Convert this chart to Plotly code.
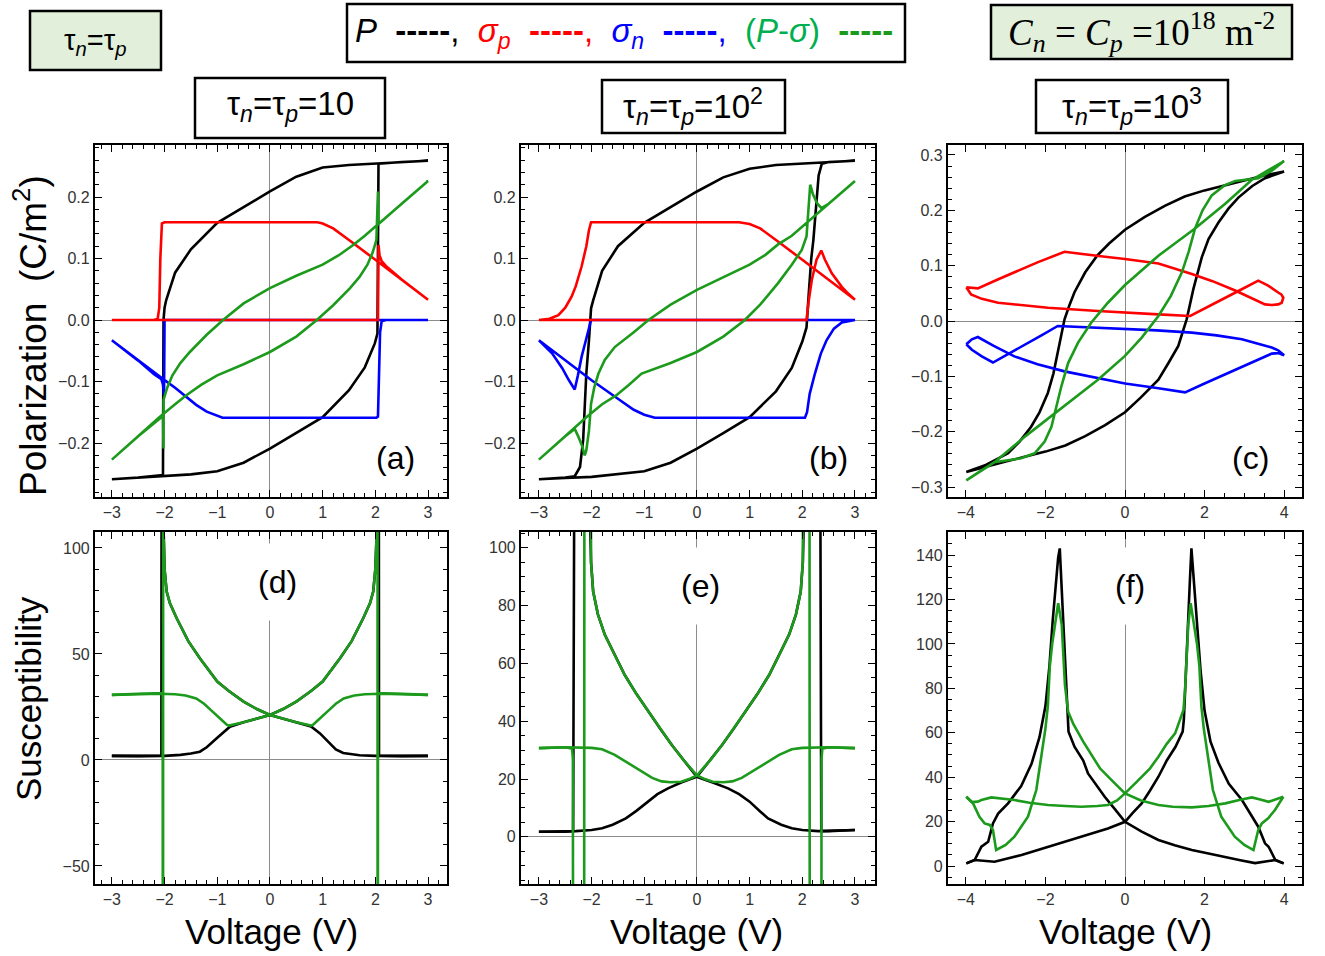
import plotly.graph_objects as go

# ---------------- DATA (voltage, value) ----------------
# Panel (a)  tau_n = tau_p = 10
a_P = [(3.0, 0.259), (2.5, 0.257), (2.0, 0.255), (1.5, 0.252), (1.0, 0.248), (0.5, 0.233), (0.0, 0.209),
       (-0.5, 0.184), (-1.0, 0.158), (-1.5, 0.115), (-1.8, 0.077), (-1.97, 0.032), (-2.0, 0.020), (-2.02, 0.0),
       (-2.03, -0.252), (-2.5, -0.256), (-3.0, -0.259),
       (-2.5, -0.257), (-2.0, -0.254), (-1.5, -0.251), (-1.0, -0.246), (-0.5, -0.232), (0.0, -0.209),
       (0.5, -0.184), (1.0, -0.158), (1.5, -0.114), (1.8, -0.077), (1.99, -0.038), (2.04, -0.022),
       (2.06, 0.254), (2.5, 0.257), (3.0, 0.259)]
a_sp = [(3.0, 0.033), (2.5, 0.066), (2.0, 0.098), (1.5, 0.130), (1.2, 0.149), (1.0, 0.157), (0.9, 0.159),
        (0.0, 0.159), (-1.0, 0.159), (-2.0, 0.159), (-2.05, 0.157), (-2.08, 0.10), (-2.10, 0.02), (-2.13, 0.002),
        (-2.2, 0.0), (-3.0, 0.0),
        (-2.0, 0.0), (0.0, 0.0), (2.05, 0.0), (2.06, 0.122), (2.08, 0.105), (2.12, 0.096), (2.2, 0.088),
        (2.5, 0.066), (3.0, 0.033)]
a_sn = [(-3.0, -0.033), (-2.5, -0.066), (-2.09, -0.092), (-1.8, -0.110), (-1.58, -0.125), (-1.4, -0.138),
        (-1.2, -0.149), (-1.0, -0.156), (-0.9, -0.159), (0.0, -0.159), (1.0, -0.159), (2.02, -0.159),
        (2.05, -0.157), (2.07, -0.10), (2.09, -0.02), (2.12, -0.002), (2.2, 0.0), (3.0, 0.0),
        (2.0, 0.0), (0.0, 0.0), (-2.0, 0.0), (-2.01, -0.122), (-2.03, -0.105), (-2.06, -0.096), (-2.2, -0.088),
        (-2.5, -0.066), (-3.0, -0.033)]
a_G = [(3.0, 0.226), (2.5, 0.189), (2.1, 0.158), (1.8, 0.137), (1.58, 0.122), (1.3, 0.105), (1.0, 0.090),
       (0.5, 0.072), (0.0, 0.052), (-0.5, 0.027), (-0.89, 0.0), (-1.2, -0.024), (-1.52, -0.052), (-1.7, -0.070),
       (-1.85, -0.090), (-1.95, -0.110), (-2.02, -0.130), (-2.02, -0.209), (-2.03, -0.156), (-2.5, -0.189),
       (-3.0, -0.227),
       (-2.5, -0.189), (-2.1, -0.158), (-1.8, -0.137), (-1.58, -0.122), (-1.3, -0.105), (-1.0, -0.090),
       (-0.5, -0.072), (0.0, -0.052), (0.5, -0.027), (0.89, 0.0), (1.2, 0.024), (1.52, 0.052), (1.7, 0.070),
       (1.85, 0.090), (1.95, 0.110), (2.02, 0.130), (2.05, 0.209), (2.06, 0.156), (2.5, 0.189), (3.0, 0.226)]

# Panel (b)  tau = 10^2
b_P = [(3.0, 0.259), (2.5, 0.257), (2.0, 0.255), (1.5, 0.252), (1.0, 0.246), (0.5, 0.232), (0.0, 0.209),
       (-0.5, 0.184), (-1.0, 0.158), (-1.5, 0.120), (-1.8, 0.080), (-1.97, 0.032), (-2.01, 0.019),
       (-2.05, -0.033), (-2.10, -0.087), (-2.13, -0.141), (-2.16, -0.195), (-2.22, -0.239), (-2.32, -0.254),
       (-2.5, -0.256), (-3.0, -0.259),
       (-2.5, -0.257), (-2.0, -0.255), (-1.5, -0.251), (-1.0, -0.246), (-0.5, -0.232), (0.0, -0.209),
       (0.5, -0.184), (1.0, -0.158), (1.5, -0.116), (1.8, -0.078), (2.0, -0.035), (2.08, -0.012),
       (2.12, 0.040), (2.17, 0.100), (2.21, 0.130), (2.26, 0.190), (2.31, 0.235), (2.37, 0.254),
       (2.5, 0.257), (3.0, 0.259)]
b_sp = [(3.0, 0.033), (2.5, 0.066), (2.0, 0.098), (1.5, 0.130), (1.2, 0.149), (1.0, 0.156), (0.8, 0.159),
        (0.0, 0.159), (-1.0, 0.159), (-2.01, 0.159), (-2.05, 0.146), (-2.1, 0.120), (-2.19, 0.087),
        (-2.3, 0.055), (-2.38, 0.038), (-2.5, 0.020), (-2.63, 0.008), (-2.8, 0.002), (-3.0, 0.0),
        (0.0, 0.0), (2.08, 0.0), (2.12, 0.030), (2.18, 0.065), (2.27, 0.098), (2.36, 0.113), (2.43, 0.098),
        (2.56, 0.076), (2.75, 0.054), (2.87, 0.043), (3.0, 0.033)]
b_sn = [(-3.0, -0.033), (-2.5, -0.066), (-2.0, -0.098), (-1.5, -0.128), (-1.2, -0.146), (-1.0, -0.154),
        (-0.8, -0.159), (0.0, -0.159), (1.0, -0.159), (2.05, -0.159), (2.09, -0.150), (2.14, -0.120),
        (2.24, -0.087), (2.35, -0.055), (2.46, -0.033), (2.6, -0.014), (2.75, -0.004), (3.0, 0.0),
        (0.0, 0.0), (-2.01, 0.0), (-2.1, -0.030), (-2.19, -0.060), (-2.26, -0.090), (-2.32, -0.113),
        (-2.43, -0.098), (-2.56, -0.078), (-2.75, -0.054), (-3.0, -0.033)]
b_G = [(3.0, 0.226), (2.5, 0.189), (2.1, 0.158), (1.8, 0.137), (1.54, 0.123), (1.3, 0.106), (1.0, 0.090),
       (0.5, 0.070), (0.0, 0.049), (-0.5, 0.025), (-0.92, 0.0), (-1.2, -0.020), (-1.56, -0.044),
       (-1.75, -0.065), (-1.87, -0.087), (-1.95, -0.110), (-2.01, -0.136), (-2.05, -0.180), (-2.10, -0.212),
       (-2.13, -0.220), (-2.18, -0.205), (-2.25, -0.190), (-2.32, -0.177), (-2.5, -0.189), (-3.0, -0.227),
       (-2.5, -0.189), (-2.1, -0.158), (-1.8, -0.137), (-1.54, -0.123), (-1.3, -0.106), (-1.05, -0.087),
       (-0.5, -0.070), (0.0, -0.052), (0.5, -0.027), (0.91, 0.0), (1.2, 0.025), (1.54, 0.060), (1.8, 0.090),
       (1.99, 0.114), (2.08, 0.136), (2.12, 0.180), (2.15, 0.220), (2.2, 0.205), (2.28, 0.190), (2.36, 0.182),
       (2.5, 0.189), (3.0, 0.226)]

# Panel (c)  tau = 10^3
c_P = [(4.0, 0.270), (3.5, 0.263), (3.0, 0.254), (2.5, 0.245), (2.0, 0.236), (1.5, 0.225), (1.0, 0.208),
       (0.5, 0.188), (0.0, 0.165), (-0.4, 0.140), (-0.7, 0.118), (-1.0, 0.088), (-1.27, 0.052), (-1.4, 0.028),
       (-1.52, 0.003), (-1.6, -0.025), (-1.69, -0.058), (-1.8, -0.095), (-1.94, -0.130), (-2.15, -0.165),
       (-2.36, -0.191), (-2.65, -0.218), (-2.94, -0.239), (-3.5, -0.260), (-3.99, -0.273),
       (-3.5, -0.263), (-3.0, -0.254), (-2.5, -0.245), (-2.0, -0.236), (-1.5, -0.225), (-1.0, -0.208),
       (-0.5, -0.188), (0.0, -0.165), (0.4, -0.138), (0.84, -0.106), (1.1, -0.075), (1.34, -0.045),
       (1.55, 0.003), (1.72, 0.058), (1.93, 0.115), (2.1, 0.148), (2.35, 0.178), (2.6, 0.203), (2.85, 0.223),
       (3.2, 0.244), (3.52, 0.258), (4.0, 0.270)]
c_sp = [(-3.99, 0.061), (-3.70, 0.059), (-3.2, 0.075), (-2.78, 0.088), (-2.2, 0.106), (-1.52, 0.125),
        (-1.0, 0.120), (-0.5, 0.116), (0.0, 0.112), (0.84, 0.104), (1.68, 0.085), (2.2, 0.072), (2.77, 0.055),
        (3.2, 0.041), (3.52, 0.030), (3.69, 0.029), (3.85, 0.030), (3.94, 0.033), (3.98, 0.042), (3.93, 0.048),
        (3.86, 0.051), (3.6, 0.064), (3.35, 0.073), (2.9, 0.056), (2.5, 0.041), (2.0, 0.022), (1.64, 0.009),
        (0.84, 0.012), (0.0, 0.015), (-0.68, 0.018), (-1.94, 0.024), (-3.19, 0.033), (-3.6, 0.040),
        (-3.87, 0.048), (-3.99, 0.061)]
c_sn = [(-3.99, -0.042), (-3.85, -0.033), (-3.70, -0.029), (-3.3, -0.045), (-2.78, -0.064), (-2.2, -0.078),
        (-1.52, -0.091), (-0.7, -0.103), (0.0, -0.113), (0.8, -0.121), (1.51, -0.129), (2.0, -0.113),
        (2.6, -0.094), (3.2, -0.074), (3.69, -0.059), (3.85, -0.058), (4.0, -0.062), (3.85, -0.053),
        (3.69, -0.048), (3.3, -0.040), (2.94, -0.033), (2.3, -0.026), (1.68, -0.021), (0.8, -0.017),
        (0.0, -0.014), (-0.8, -0.011), (-1.69, -0.009), (-2.1, -0.026), (-2.5, -0.042), (-2.9, -0.058),
        (-3.32, -0.075), (-3.6, -0.064), (-3.85, -0.052), (-3.99, -0.042)]
c_G = [(4.0, 0.289), (3.6, 0.272), (3.19, 0.255), (2.52, 0.212), (1.76, 0.167), (0.84, 0.118), (0.0, 0.065),
       (-0.43, 0.033), (-0.85, -0.003), (-1.18, -0.039), (-1.43, -0.076), (-1.60, -0.118), (-1.73, -0.155),
       (-1.85, -0.191), (-2.02, -0.218), (-2.27, -0.239), (-2.61, -0.248), (-3.0, -0.252), (-3.28, -0.255),
       (-3.61, -0.270), (-3.99, -0.288),
       (-3.28, -0.255), (-2.5, -0.208), (-1.77, -0.167), (-1.2, -0.134), (-0.68, -0.106), (0.0, -0.063),
       (0.42, -0.030), (0.84, 0.009), (1.15, 0.045), (1.43, 0.088), (1.6, 0.125), (1.76, 0.167), (1.95, 0.200),
       (2.18, 0.227), (2.5, 0.245), (2.77, 0.253), (3.0, 0.255), (3.35, 0.258), (3.7, 0.272), (4.0, 0.289)]

# Panel (d)  susceptibility, tau = 10
d_Pdesc = [(3.0, 1.9), (2.5, 1.8), (2.0, 1.9), (1.7, 2.2), (1.5, 2.7), (1.39, 3.3), (1.25, 5.0), (1.08, 9.4),
           (0.95, 12.5), (0.78, 15.8), (0.5, 17.8), (0.25, 19.5), (0.0, 21.2), (-0.25, 24.0), (-0.5, 27.5),
           (-0.78, 32.5), (-1.0, 37.0), (-1.33, 48.0), (-1.55, 56.0), (-1.77, 66.8), (-1.9, 74.0),
           (-1.96, 79.4), (-2.0, 90.0), (-2.02, 110.0), (-2.03, 400.0), (-2.05, 400.0), (-2.06, 2.0),
           (-2.5, 1.8), (-3.0, 1.9)]
d_Pasc = [(-3.0, 1.9), (-2.5, 1.8), (-2.0, 1.9), (-1.7, 2.4), (-1.5, 3.0), (-1.33, 3.9), (-1.2, 6.0),
          (-1.01, 10.2), (-0.9, 12.8), (-0.76, 15.7), (-0.5, 17.8), (-0.25, 19.5), (0.0, 21.2), (0.25, 24.0),
          (0.5, 27.5), (0.78, 32.5), (1.0, 37.0), (1.33, 48.0), (1.55, 56.0), (1.77, 66.8), (1.9, 74.0),
          (1.96, 79.4), (2.0, 90.0), (2.03, 110.0), (2.04, 400.0), (2.06, 400.0), (2.07, 2.0), (2.5, 1.8),
          (3.0, 1.9)]
d_Gdesc = [(3.0, 30.7), (2.5, 31.0), (2.1, 31.2), (1.8, 31.0), (1.6, 30.4), (1.4, 29.0), (1.25, 26.5),
           (1.12, 23.5), (1.01, 21.2), (0.9, 18.5), (0.82, 16.6), (0.78, 16.2), (0.5, 17.8), (0.25, 19.5),
           (0.0, 21.2), (-0.25, 24.0), (-0.5, 27.5), (-0.78, 32.5), (-1.0, 37.0), (-1.33, 48.0), (-1.55, 56.0),
           (-1.77, 66.8), (-1.9, 74.0), (-1.96, 79.4), (-2.0, 90.0), (-2.02, 110.0), (-2.025, 400.0),
           (-2.03, -400.0), (-2.035, 31.5), (-2.5, 31.2), (-3.0, 30.7)]
d_Gasc = [(-3.0, 30.7), (-2.5, 31.0), (-2.1, 31.2), (-1.8, 31.0), (-1.6, 30.4), (-1.4, 29.0), (-1.25, 26.5),
          (-1.12, 23.5), (-1.01, 21.2), (-0.9, 18.5), (-0.82, 16.6), (-0.78, 16.2), (-0.5, 17.8),
          (-0.25, 19.5), (0.0, 21.2), (0.25, 24.0), (0.5, 27.5), (0.78, 32.5), (1.0, 37.0), (1.33, 48.0),
          (1.55, 56.0), (1.77, 66.8), (1.9, 74.0), (1.96, 79.4), (2.0, 90.0), (2.03, 110.0), (2.04, 400.0),
          (2.045, -400.0), (2.05, 31.5), (2.5, 31.2), (3.0, 30.7)]

# Panel (e)  susceptibility, tau = 10^2
e_Pdesc = [(3.0, 2.4), (2.6, 2.2), (2.3, 2.0), (2.0, 2.4), (1.8, 3.0), (1.6, 4.2), (1.35, 6.4), (1.2, 8.8),
           (1.0, 12.2), (0.8, 14.8), (0.59, 16.8), (0.3, 18.8), (0.0, 20.8), (-0.25, 26.5), (-0.48, 31.9),
           (-0.7, 37.5), (-0.92, 43.4), (-1.15, 49.5), (-1.37, 56.0), (-1.55, 62.5), (-1.75, 70.0),
           (-1.88, 77.0), (-1.97, 84.9), (-2.01, 95.0), (-2.03, 110.0), (-2.05, 400.0), (-2.28, 400.0),
           (-2.35, 2.0), (-2.5, 1.8), (-3.0, 1.8)]
e_Pasc = [(-3.0, 1.8), (-2.5, 1.8), (-2.3, 2.0), (-2.0, 2.4), (-1.8, 3.0), (-1.6, 4.2), (-1.35, 6.4),
          (-1.15, 9.0), (-0.92, 12.2), (-0.75, 14.8), (-0.55, 16.8), (-0.3, 18.8), (0.0, 20.8), (0.25, 26.5),
          (0.48, 31.9), (0.7, 37.5), (0.92, 43.4), (1.15, 49.5), (1.37, 56.0), (1.55, 62.5), (1.75, 70.0),
          (1.88, 77.0), (1.97, 84.9), (2.01, 95.0), (2.03, 110.0), (2.05, 400.0), (2.3, 400.0), (2.36, 2.0),
          (2.5, 2.0), (3.0, 2.4)]
e_Gdesc = [(3.0, 30.7), (2.5, 31.0), (2.0, 30.8), (1.8, 30.3), (1.56, 28.4), (1.3, 25.5), (1.05, 22.6),
           (0.85, 20.4), (0.67, 19.2), (0.5, 18.9), (0.3, 19.1), (0.15, 20.0), (0.0, 21.3), (-0.25, 26.5),
           (-0.48, 31.9), (-0.7, 37.5), (-0.92, 43.4), (-1.15, 49.5), (-1.37, 56.0), (-1.55, 62.5),
           (-1.75, 70.0), (-1.88, 77.0), (-1.97, 84.9), (-2.01, 95.0), (-2.03, 115.0), (-2.05, 400.0),
           (-2.13, 400.0), (-2.15, -400.0), (-2.34, -400.0), (-2.355, 27.0), (-2.37, 30.5), (-2.5, 31.0),
           (-3.0, 30.7)]
e_Gasc = [(-3.0, 30.7), (-2.5, 31.0), (-2.0, 30.8), (-1.8, 30.3), (-1.56, 28.4), (-1.3, 25.5), (-1.05, 22.6),
          (-0.85, 20.4), (-0.67, 19.2), (-0.5, 18.9), (-0.3, 19.1), (-0.15, 20.0), (0.0, 21.3), (0.25, 26.5),
          (0.48, 31.9), (0.7, 37.5), (0.92, 43.4), (1.15, 49.5), (1.37, 56.0), (1.55, 62.5), (1.75, 70.0),
          (1.88, 77.0), (1.97, 84.9), (2.01, 95.0), (2.03, 115.0), (2.05, 400.0), (2.13, 400.0),
          (2.15, -400.0), (2.35, -400.0), (2.365, 27.0), (2.38, 30.5), (2.5, 31.0), (3.0, 30.7)]

# Panel (f)  susceptibility, tau = 10^3
f_Pdesc = [(-3.99, 1.2), (-3.78, 2.7), (-3.61, 8.7), (-3.44, 10.9), (-3.32, 19.2), (-3.19, 23.6),
           (-2.94, 28.2), (-2.61, 36.0), (-2.35, 46.0), (-2.15, 58.0), (-2.0, 72.0), (-1.9, 90.0),
           (-1.82, 110.0), (-1.74, 128.0), (-1.68, 139.0), (-1.64, 143.0), (-1.6, 128.0), (-1.56, 110.0),
           (-1.52, 92.0), (-1.48, 79.0), (-1.45, 66.0), (-1.42, 60.5), (-1.27, 53.7), (-1.05, 47.5),
           (-0.93, 41.7), (-0.7, 36.0), (-0.51, 31.2), (-0.25, 25.5), (0.0, 19.9), (0.42, 15.5), (0.84, 11.7),
           (1.25, 9.3), (1.68, 7.2), (2.1, 5.6), (2.52, 4.2), (2.9, 2.6), (3.27, 1.3), (3.45, 1.8), (3.6, 2.3),
           (3.78, 2.7), (3.9, 1.8), (3.99, 1.2)]
f_Pasc = [(3.99, 1.2), (3.78, 2.7), (3.61, 8.7), (3.52, 10.2), (3.35, 17.7), (3.23, 21.4), (2.94, 29.7),
          (2.61, 37.0), (2.35, 46.5), (2.15, 56.0), (2.0, 70.0), (1.9, 88.0), (1.82, 108.0), (1.74, 127.0),
          (1.70, 139.0), (1.67, 143.0), (1.63, 128.0), (1.59, 110.0), (1.55, 92.0), (1.51, 79.0),
          (1.48, 66.0), (1.45, 60.5), (1.27, 53.7), (1.05, 47.5), (0.84, 40.2), (0.63, 34.0), (0.42, 28.2),
          (0.2, 24.0), (0.0, 19.9), (-0.43, 16.9), (-1.1, 13.2), (-1.94, 8.7), (-2.6, 5.0), (-3.28, 1.9),
          (-3.6, 2.2), (-3.78, 2.7), (-3.99, 1.2)]
f_Gdesc = [(3.98, 31.2), (3.86, 30.5), (3.61, 28.9), (3.4, 30.0), (3.19, 30.9), (2.9, 29.8), (2.52, 28.2),
           (2.1, 27.0), (1.68, 26.4), (1.2, 26.7), (0.84, 27.5), (0.4, 29.5), (0.0, 32.7), (-0.3, 38.0),
           (-0.63, 44.0), (-1.05, 56.0), (-1.3, 64.0), (-1.43, 69.5), (-1.51, 81.5), (-1.59, 108.6),
           (-1.68, 118.3), (-1.76, 108.6), (-1.83, 100.0), (-1.89, 90.0), (-1.94, 72.0), (-2.0, 62.0),
           (-2.06, 55.2), (-2.15, 44.0), (-2.23, 34.2), (-2.44, 22.2), (-2.78, 13.2), (-3.0, 9.5), (-3.24, 7.2),
           (-3.32, 16.2), (-3.40, 18.5), (-3.53, 19.2), (-3.66, 22.2), (-3.82, 28.2), (-3.99, 31.2)]
f_Gasc = [(-3.99, 31.2), (-3.85, 28.8), (-3.7, 29.0), (-3.61, 29.7), (-3.36, 30.9), (-3.0, 30.2),
          (-2.78, 29.7), (-2.4, 28.5), (-1.94, 27.5), (-1.5, 27.0), (-1.1, 26.7), (-0.7, 27.0), (-0.43, 27.5),
          (-0.2, 29.5), (0.0, 32.7), (0.3, 38.0), (0.63, 44.0), (0.84, 49.2), (1.05, 55.0), (1.26, 59.7),
          (1.43, 68.0), (1.47, 70.3), (1.51, 79.3), (1.59, 108.6), (1.65, 118.3), (1.74, 108.6), (1.81, 100.0),
          (1.87, 90.0), (1.92, 72.0), (1.98, 62.0), (2.04, 55.2), (2.13, 44.0), (2.21, 34.2), (2.42, 22.2),
          (2.76, 13.2), (3.0, 9.5), (3.23, 7.2), (3.35, 16.2), (3.44, 19.2), (3.6, 21.5), (3.77, 25.2),
          (3.98, 31.2)]

# axis ranges / ticks per panel (xmin, xmax, xdtick, xminor, ymin, ymax, ydtick, yminor)
panel_axes = {
    1: (-3.32, 3.36, 1, 0.2, -0.2878, 0.2846, 0.1, 0.02),
    2: (-3.34, 3.38, 1, 0.2, -0.2878, 0.2846, 0.1, 0.02),
    3: (-4.45, 4.45, 2, 0.5, -0.318, 0.318, 0.1, 0.02),
    4: (-3.32, 3.36, 1, 0.2, -58.5, 107.5, 50, 10),
    5: (-3.34, 3.38, 1, 0.2, -16.3, 105.5, 20, 5),
    6: (-4.45, 4.45, 2, 0.5, -8.1, 150.4, 20, 5),
}

# ---------------- FIGURE ----------------
W, H = 1325, 956
BLACK, RED, BLUE, GREEN = '#000000', '#ff0000', '#0000ff', '#1c9a1c'
FONT = 'Liberation Sans, Arial, sans-serif'

col_px = [(95, 447), (521, 875), (948, 1302)]
row_px = [(145, 497), (532, 884)]

fig = go.Figure()


def add(i, pts, color, width=2.6):
    xa = 'x' if i == 1 else 'x%d' % i
    ya = 'y' if i == 1 else 'y%d' % i
    fig.add_trace(go.Scatter(x=[p[0] for p in pts], y=[p[1] for p in pts], mode='lines',
                             line=dict(color=color, width=width), xaxis=xa, yaxis=ya,
                             showlegend=False, hoverinfo='skip'))


for i, (P, sp, sn, G) in zip([1, 2, 3], [(a_P, a_sp, a_sn, a_G), (b_P, b_sp, b_sn, b_G), (c_P, c_sp, c_sn, c_G)]):
    add(i, P, BLACK)
    add(i, sn, BLUE)
    add(i, sp, RED)
    add(i, G, GREEN)

for i, curves in zip([4, 5, 6], [(d_Pdesc, d_Pasc, d_Gdesc, d_Gasc), (e_Pdesc, e_Pasc, e_Gdesc, e_Gasc),
                                 (f_Pdesc, f_Pasc, f_Gdesc, f_Gasc)]):
    add(i, curves[0], BLACK)
    add(i, curves[1], BLACK)
    add(i, curves[2], GREEN)
    add(i, curves[3], GREEN)

layout = dict(width=W, height=H, margin=dict(l=0, r=0, t=0, b=0), paper_bgcolor='white',
              plot_bgcolor='white', showlegend=False)

for i in range(1, 7):
    c = (i - 1) % 3
    r = (i - 1) // 3
    x0, x1, xd, xm, y0, y1, yd, ym = panel_axes[i]
    common = dict(showline=True, linewidth=2.2, linecolor='black', mirror='ticks', ticks='inside',
                  ticklen=7, tickwidth=1.3, tickcolor='black', showgrid=False, zeroline=True,
                  zerolinecolor='#8c8c8c', zerolinewidth=1.1,
                  tickfont=dict(family=FONT, size=16, color='#333333'), tickmode='linear', tick0=0)
    xax = dict(common, range=[x0, x1], dtick=xd,
               minor=dict(ticks='inside', ticklen=4, tickcolor='black', tickwidth=1, dtick=xm, tick0=0,
                          showgrid=False),
               domain=[col_px[c][0] / W, col_px[c][1] / W],
               anchor='y' if i == 1 else 'y%d' % i)
    yax = dict(common, range=[y0, y1], dtick=yd,
               minor=dict(ticks='inside', ticklen=4, tickcolor='black', tickwidth=1, dtick=ym, tick0=0,
                          showgrid=False),
               domain=[1 - row_px[r][1] / H, 1 - row_px[r][0] / H],
               anchor='x' if i == 1 else 'x%d' % i)
    if i in (1, 2, 3):
        yax['tickformat'] = '.1f'
    if i == 6:
        yax['zeroline'] = False
    layout['xaxis' if i == 1 else 'xaxis%d' % i] = xax
    layout['yaxis' if i == 1 else 'yaxis%d' % i] = yax

fig.update_layout(**layout)

# boxes
shapes = []


def box(x0, y0, x1, y1, fill):
    shapes.append(dict(type='rect', xref='paper', yref='paper', x0=x0 / W, x1=x1 / W, y0=1 - y1 / H,
                       y1=1 - y0 / H, line=dict(color='black', width=2.5), fillcolor=fill, layer='above'))


box(30, 11, 161, 70, '#e2efda')
box(347, 4, 905, 62, 'white')
box(991, 5, 1292, 59, '#e2efda')
box(195, 78, 385, 138, 'white')
box(602, 80, 785, 133, 'white')
box(1036, 80, 1228, 133, 'white')
fig.update_layout(shapes=shapes)

anns = []


def ann(x, y, text, size, angle=0, bg=None, pad=1, family=FONT, color='black'):
    d = dict(x=x / W, y=1 - y / H, xref='paper', yref='paper', text=text, showarrow=False,
             xanchor='center', yanchor='middle', textangle=angle,
             font=dict(family=family, size=size, color=color))
    if bg:
        d['bgcolor'] = bg
        d['borderpad'] = pad
    anns.append(d)


tau = 'τ<sub><i>n</i></sub>=τ<sub><i>p</i></sub>'
ann(95, 42, tau, 29)
legend_txt = ("<i>P</i>  <b>-----</b>,  "
              "<span style='color:#ff0000'><i>σ<sub>p</sub></i>  <b>-----</b>,</span>  "
              "<span style='color:#0000ff'><i>σ<sub>n</sub></i>  <b>-----</b>,</span>  "
              "<span style='color:#00b050'>(<i>P</i>-<i>σ</i>)</span>  "
              "<span style='color:#1c9a1c'><b>-----</b></span>")
ann(624, 33, legend_txt, 33)
ann(1141, 32, "<i>C<sub>n</sub></i> = <i>C<sub>p</sub></i> =10<sup>18</sup> m<sup>-2</sup>", 37,
    family='Liberation Serif, DejaVu Serif, serif')
ann(290, 106, tau + '=10', 33)
ann(693, 106, tau + '=10<sup>2</sup>', 33)
ann(1132, 106, tau + '=10<sup>3</sup>', 33)

ann(395, 458, '(a)', 32)
ann(828, 458, '(b)', 32)
ann(1250, 458, '(c)', 32)
ann(277, 582, '(d)', 32, bg='white', pad=20)
ann(700, 586, '(e)', 32, bg='white', pad=20)
ann(1130, 586, '(f)', 32, bg='white', pad=20)

ann(30, 336, 'Polarization\u00a0\u00a0(C/m<sup>2</sup>)', 37, angle=-90)
ann(28, 699, 'Susceptibility', 35, angle=-90)
for xc in (271, 697, 1125):
    ann(xc, 931, 'Voltage (V)', 35)

fig.update_layout(annotations=anns)
fig.write_html("out.html", config={'displayModeBar': False},
               post_script="document.body.style.margin='0px';")
